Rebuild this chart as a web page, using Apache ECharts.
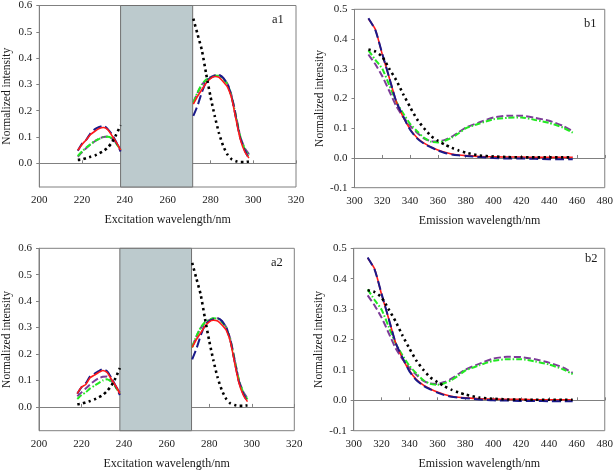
<!DOCTYPE html>
<html><head><meta charset="utf-8">
<script src="https://cdn.jsdelivr.net/npm/echarts@6/dist/echarts.min.js"></script>
<style>html,body{margin:0;padding:0;background:#fff}#c{width:616px;height:471px}</style>
</head><body><div id="c"></div>
<script>
// ---------- data ----------
const exLeftX  = [218,220,222,224,226,228,230,232,234,236,238];
const exRightX = [272,274,276,278,280,282,284,286,288,290,292,294,296,298];
const emX = [310,315,320,325,330,335,340,345,350,355,360,365,370,375,380,390,400,410,420,430,440,450,457];
const shadeRange = [238, 271.7];
const exTicks = [200,220,240,260,280,300,320];
const exYTicks = [0,0.1,0.2,0.3,0.4,0.5,0.6];
const emTicks = [300,320,340,360,380,400,420,440,460,480];
const emYTicks = [-0.1,0,0.1,0.2,0.3,0.4,0.5];
const panelLabels = ['a1','b1','a2','b2'];

// a1
const a1BlueL   = [0.048,0.075,0.09,0.115,0.13,0.138,0.143,0.13,0.11,0.08,0.045];
const a1RedL    = [0.05,0.072,0.09,0.11,0.122,0.132,0.136,0.128,0.105,0.08,0.05];
const a1GreenL  = [0.028,0.045,0.06,0.073,0.085,0.093,0.1,0.101,0.095,0.075,0.05];
const a1PurpleL = [0.025,0.043,0.058,0.072,0.084,0.094,0.1,0.102,0.094,0.078,0.052];
const a1BlackL  = [0.013,0.015,0.02,0.025,0.03,0.038,0.047,0.06,0.08,0.11,0.145];
const a1BlueR   = [0.18,0.22,0.27,0.31,0.325,0.332,0.335,0.325,0.3,0.25,0.17,0.095,0.05,0.018];
const a1RedR    = [0.225,0.255,0.28,0.305,0.322,0.33,0.327,0.31,0.29,0.245,0.165,0.09,0.045,0.02];
const a1GreenR  = [0.23,0.27,0.3,0.318,0.327,0.333,0.333,0.32,0.3,0.25,0.175,0.1,0.055,0.03];
const a1PurpleR = [0.232,0.268,0.298,0.318,0.328,0.335,0.336,0.324,0.302,0.255,0.178,0.1,0.058,0.035];
const a1BlackR  = [0.55,0.49,0.43,0.34,0.255,0.18,0.115,0.065,0.033,0.015,0.008,0.005,0.005,0.007];
// a2
const a2BlueL   = [0.05,0.075,0.09,0.115,0.125,0.135,0.143,0.135,0.11,0.08,0.045];
const a2RedL    = [0.05,0.075,0.085,0.11,0.12,0.13,0.138,0.13,0.105,0.08,0.05];
const a2GreenL  = [0.03,0.045,0.055,0.07,0.08,0.09,0.1,0.105,0.095,0.075,0.05];
const a2PurpleL = [0.04,0.055,0.07,0.085,0.098,0.108,0.114,0.115,0.1,0.078,0.055];
const a2BlackL  = [0.01,0.012,0.017,0.022,0.028,0.036,0.045,0.06,0.08,0.11,0.147];
const a2BlueR   = [0.18,0.22,0.27,0.31,0.325,0.332,0.335,0.325,0.3,0.25,0.17,0.095,0.05,0.018];
const a2RedR    = [0.225,0.255,0.28,0.305,0.322,0.328,0.325,0.31,0.29,0.245,0.165,0.09,0.045,0.02];
const a2GreenR  = [0.225,0.268,0.3,0.32,0.33,0.335,0.334,0.32,0.3,0.25,0.175,0.1,0.055,0.028];
const a2PurpleR = [0.228,0.266,0.298,0.318,0.328,0.335,0.335,0.323,0.302,0.255,0.178,0.1,0.058,0.032];
const a2BlackR  = [0.545,0.485,0.425,0.335,0.25,0.175,0.11,0.062,0.03,0.013,0.007,0.004,0.004,0.006];
// b1
const b1Blue   = [0.47,0.43,0.35,0.27,0.19,0.14,0.095,0.066,0.048,0.036,0.025,0.017,0.012,0.009,0.007,0.003,0.0,-0.002,-0.002,-0.003,-0.004,-0.004,-0.004];
const b1Red    = [0.468,0.432,0.348,0.27,0.19,0.138,0.097,0.068,0.05,0.037,0.027,0.019,0.013,0.01,0.008,0.005,0.004,0.003,0.003,0.002,0.002,0.002,0.002];
const b1Green  = [0.362,0.33,0.3,0.245,0.19,0.15,0.115,0.09,0.068,0.055,0.052,0.058,0.068,0.083,0.1,0.116,0.13,0.135,0.136,0.128,0.118,0.102,0.085];
const b1Purple = [0.348,0.315,0.275,0.225,0.175,0.138,0.108,0.085,0.066,0.056,0.055,0.061,0.072,0.087,0.102,0.12,0.136,0.142,0.142,0.135,0.125,0.108,0.09];
const b1Black  = [0.365,0.358,0.34,0.3,0.262,0.215,0.171,0.13,0.1,0.074,0.058,0.045,0.034,0.025,0.018,0.008,0.005,0.003,0.002,0.002,0.002,0.002,0.002];
// b2
const b2Blue   = [0.47,0.43,0.35,0.27,0.19,0.14,0.095,0.066,0.048,0.036,0.025,0.017,0.012,0.009,0.007,0.003,0.0,-0.001,-0.002,-0.002,-0.003,-0.003,-0.003];
const b2Red    = [0.468,0.432,0.348,0.27,0.19,0.138,0.097,0.068,0.05,0.037,0.027,0.019,0.013,0.01,0.008,0.005,0.004,0.003,0.003,0.002,0.002,0.002,0.002];
const b2Green  = [0.365,0.33,0.298,0.243,0.188,0.148,0.113,0.088,0.066,0.054,0.051,0.056,0.066,0.081,0.098,0.115,0.13,0.135,0.135,0.128,0.118,0.102,0.086];
const b2Purple = [0.345,0.312,0.272,0.222,0.172,0.135,0.106,0.083,0.064,0.055,0.054,0.06,0.071,0.086,0.101,0.12,0.137,0.143,0.142,0.135,0.124,0.108,0.09];
const b2Black  = [0.362,0.356,0.338,0.3,0.26,0.213,0.17,0.13,0.1,0.075,0.06,0.046,0.035,0.026,0.019,0.009,0.005,0.003,0.002,0.002,0.002,0.002,0.002];

// ---------- styles ----------
const ST = {
  purple: {color:'#7d3c98', width:2, type:[7,3]},
  green:  {color:'#22e822', width:2, type:[6,2,1.5,2]},
  blue:   {color:'#1a1a8a', width:2, type:[9,4]},
  red:    {color:'#ff1a1a', width:1.6, type:'solid'},
  black:  {color:'#000000', width:2.6, type:[2.4,3.4]}
};
const FONT = '"Liberation Serif", "Times New Roman", serif';
const AX = '#808080';

const grids = [
  {left:39.3, top:5,     width:256.7, height:182},
  {left:354.5, top:9.3,  width:250.5, height:178.4},
  {left:39,   top:248.3, width:255.3, height:182.4},
  {left:353.7, top:248.3, width:254,  height:182.4}
];

function exPairs(L, R) {
  return L.map((v,i)=>[exLeftX[i], v]).concat([[255,'-']]).concat(R.map((v,i)=>[exRightX[i], v]));
}
function emPairs(A) { return A.map((v,i)=>[emX[i], v]); }

const xAxes = [], yAxes = [], series = [], titles = [];
grids.forEach((g, gi) => {
  const isEx = gi % 2 === 0;
  xAxes.push({
    type:'value', gridIndex:gi,
    min: isEx ? 200 : 300, max: isEx ? 320 : 480, interval:20,
    name: isEx ? 'Excitation wavelength/nm' : 'Emission wavelength/nm',
    nameLocation:'middle', nameGap:27,
    nameTextStyle:{fontFamily:FONT, fontSize:12, color:'#1a1a1a'},
    axisLine:{show:true, lineStyle:{color:AX, width:1}},
    axisTick:{show:true, inside:true, length:3, lineStyle:{color:AX}},
    axisLabel:{fontFamily:FONT, fontSize:11, color:'#1a1a1a', margin:8},
    splitLine:{show:false}
  });
  yAxes.push(isEx ? {
    type:'value', gridIndex:gi, min:-0.09, max:0.6,
    name:'Normalized intensity', nameLocation:'middle', nameGap:26,
    nameTextStyle:{fontFamily:FONT, fontSize:11.5, color:'#1a1a1a'},
    axisLine:{show:true, lineStyle:{color:AX, width:1}},
    axisTick:{show:true, length:3, lineStyle:{color:AX}, customValues:exYTicks},
    axisLabel:{fontFamily:FONT, fontSize:11, color:'#1a1a1a', margin:7, customValues:exYTicks,
      formatter:v=>v.toFixed(1)},
    splitLine:{show:false}
  } : {
    type:'value', gridIndex:gi, min:-0.1, max:0.5, interval:0.1,
    name:'Normalized intensity', nameLocation:'middle', nameGap:28,
    nameTextStyle:{fontFamily:FONT, fontSize:11.5, color:'#1a1a1a'},
    axisLine:{show:true, lineStyle:{color:AX, width:1}},
    axisTick:{show:true, length:3, lineStyle:{color:AX}},
    axisLabel:{fontFamily:FONT, fontSize:11, color:'#1a1a1a', margin:7, formatter:v=>v.toFixed(1)},
    splitLine:{show:false}
  });
});

function addSeries(gi, key, data, extra) {
  series.push(Object.assign({
    type:'line', xAxisIndex:gi, yAxisIndex:gi, data:data, showSymbol:false, symbol:'none',
    connectNulls:false, smooth:0.2, lineStyle:ST[key], animation:false, silent:true
  }, extra || {}));
}

// a1
addSeries(0,'black',[[shadeRange[0],'-']],{markArea:{silent:true, itemStyle:{color:'#bccacd', borderColor:'#707070', borderWidth:1},
  data:[[{xAxis:shadeRange[0]},{xAxis:shadeRange[1]}]]}});
addSeries(0,'purple',exPairs(a1PurpleL,a1PurpleR));
addSeries(0,'green',exPairs(a1GreenL,a1GreenR));
addSeries(0,'blue',exPairs(a1BlueL,a1BlueR));
addSeries(0,'red',exPairs(a1RedL,a1RedR));
addSeries(0,'black',exPairs(a1BlackL,a1BlackR));
// b1
addSeries(1,'purple',emPairs(b1Purple));
addSeries(1,'green',emPairs(b1Green));
addSeries(1,'red',emPairs(b1Red));
addSeries(1,'blue',emPairs(b1Blue));
addSeries(1,'black',emPairs(b1Black));
// a2
addSeries(2,'black',[[shadeRange[0],'-']],{markArea:{silent:true, itemStyle:{color:'#bccacd', borderColor:'#707070', borderWidth:1},
  data:[[{xAxis:shadeRange[0]},{xAxis:shadeRange[1]}]]}});
addSeries(2,'purple',exPairs(a2PurpleL,a2PurpleR));
addSeries(2,'green',exPairs(a2GreenL,a2GreenR));
addSeries(2,'blue',exPairs(a2BlueL,a2BlueR));
addSeries(2,'red',exPairs(a2RedL,a2RedR));
addSeries(2,'black',exPairs(a2BlackL,a2BlackR));
// b2
addSeries(3,'purple',emPairs(b2Purple));
addSeries(3,'green',emPairs(b2Green));
addSeries(3,'red',emPairs(b2Red));
addSeries(3,'blue',emPairs(b2Blue));
addSeries(3,'black',emPairs(b2Black));

const labelPos = [[272,13],[584,17],[271,256],[585,252]];
panelLabels.forEach((t,i)=>{
  titles.push({text:t, left:labelPos[i][0], top:labelPos[i][1], padding:0,
    textStyle:{fontFamily:FONT, fontSize:12.5, fontWeight:'normal', color:'#1a1a1a'}});
});

const chart = echarts.init(document.getElementById('c'), null, {renderer:'canvas'});
chart.setOption({
  animation:false,
  backgroundColor:'#fff',
  title:titles,
  grid:grids.map(g=>Object.assign({show:true, borderColor:AX, borderWidth:1, backgroundColor:'transparent', containLabel:false}, g)),
  xAxis:xAxes, yAxis:yAxes, series:series
});
</script></body></html>
